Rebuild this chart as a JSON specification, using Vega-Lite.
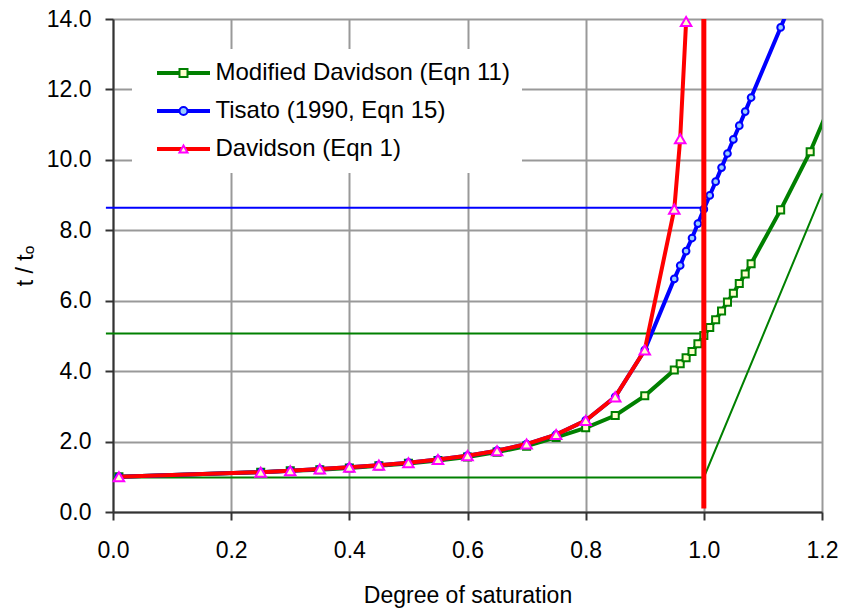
{
  "$schema": "https://vega.github.io/schema/vega-lite/v6.json",
  "width": 709,
  "height": 493,
  "autosize": {"type": "none"},
  "padding": {"left": 113, "top": 19, "right": 19, "bottom": 97},
  "background": "white",
  "config": {
    "view": {"stroke": null},
    "font": "Liberation Sans",
    "axis": {
      "domainColor": "#333333", "domainWidth": 2,
      "tickColor": "#333333", "tickWidth": 2, "tickSize": 8,
      "gridColor": "#999999", "gridWidth": 2,
      "labelFontSize": 23, "labelColor": "#000000",
      "titleFontSize": 23, "titleFontWeight": "normal", "titleColor": "#000000"
    }
  },
  "datasets": {
    "curves": [
      {"series": "Modified Davidson (Eqn 11)", "ord": 1, "x": 0.01, "y": 1.00},
      {"series": "Modified Davidson (Eqn 11)", "ord": 1, "x": 0.25, "y": 1.13},
      {"series": "Modified Davidson (Eqn 11)", "ord": 1, "x": 0.30, "y": 1.17},
      {"series": "Modified Davidson (Eqn 11)", "ord": 1, "x": 0.35, "y": 1.20},
      {"series": "Modified Davidson (Eqn 11)", "ord": 1, "x": 0.40, "y": 1.25},
      {"series": "Modified Davidson (Eqn 11)", "ord": 1, "x": 0.45, "y": 1.31},
      {"series": "Modified Davidson (Eqn 11)", "ord": 1, "x": 0.50, "y": 1.38},
      {"series": "Modified Davidson (Eqn 11)", "ord": 1, "x": 0.55, "y": 1.46},
      {"series": "Modified Davidson (Eqn 11)", "ord": 1, "x": 0.60, "y": 1.56},
      {"series": "Modified Davidson (Eqn 11)", "ord": 1, "x": 0.65, "y": 1.70},
      {"series": "Modified Davidson (Eqn 11)", "ord": 1, "x": 0.70, "y": 1.87},
      {"series": "Modified Davidson (Eqn 11)", "ord": 1, "x": 0.75, "y": 2.12},
      {"series": "Modified Davidson (Eqn 11)", "ord": 1, "x": 0.80, "y": 2.39},
      {"series": "Modified Davidson (Eqn 11)", "ord": 1, "x": 0.85, "y": 2.74},
      {"series": "Modified Davidson (Eqn 11)", "ord": 1, "x": 0.90, "y": 3.30},
      {"series": "Modified Davidson (Eqn 11)", "ord": 1, "x": 0.95, "y": 4.03},
      {"series": "Modified Davidson (Eqn 11)", "ord": 1, "x": 0.96, "y": 4.21},
      {"series": "Modified Davidson (Eqn 11)", "ord": 1, "x": 0.97, "y": 4.38},
      {"series": "Modified Davidson (Eqn 11)", "ord": 1, "x": 0.98, "y": 4.56},
      {"series": "Modified Davidson (Eqn 11)", "ord": 1, "x": 0.99, "y": 4.78},
      {"series": "Modified Davidson (Eqn 11)", "ord": 1, "x": 1.00, "y": 5.01},
      {"series": "Modified Davidson (Eqn 11)", "ord": 1, "x": 1.01, "y": 5.24},
      {"series": "Modified Davidson (Eqn 11)", "ord": 1, "x": 1.02, "y": 5.46},
      {"series": "Modified Davidson (Eqn 11)", "ord": 1, "x": 1.03, "y": 5.71},
      {"series": "Modified Davidson (Eqn 11)", "ord": 1, "x": 1.04, "y": 5.96},
      {"series": "Modified Davidson (Eqn 11)", "ord": 1, "x": 1.05, "y": 6.21},
      {"series": "Modified Davidson (Eqn 11)", "ord": 1, "x": 1.06, "y": 6.49},
      {"series": "Modified Davidson (Eqn 11)", "ord": 1, "x": 1.07, "y": 6.76},
      {"series": "Modified Davidson (Eqn 11)", "ord": 1, "x": 1.08, "y": 7.05},
      {"series": "Modified Davidson (Eqn 11)", "ord": 1, "x": 1.13, "y": 8.58},
      {"series": "Modified Davidson (Eqn 11)", "ord": 1, "x": 1.18, "y": 10.23},
      {"series": "Modified Davidson (Eqn 11)", "ord": 1, "x": 1.23, "y": 12.2},
      {"series": "Tisato (1990, Eqn 15)", "ord": 2, "x": 0.01, "y": 1.00},
      {"series": "Tisato (1990, Eqn 15)", "ord": 2, "x": 0.25, "y": 1.13},
      {"series": "Tisato (1990, Eqn 15)", "ord": 2, "x": 0.30, "y": 1.17},
      {"series": "Tisato (1990, Eqn 15)", "ord": 2, "x": 0.35, "y": 1.22},
      {"series": "Tisato (1990, Eqn 15)", "ord": 2, "x": 0.40, "y": 1.27},
      {"series": "Tisato (1990, Eqn 15)", "ord": 2, "x": 0.45, "y": 1.33},
      {"series": "Tisato (1990, Eqn 15)", "ord": 2, "x": 0.50, "y": 1.40},
      {"series": "Tisato (1990, Eqn 15)", "ord": 2, "x": 0.55, "y": 1.49},
      {"series": "Tisato (1990, Eqn 15)", "ord": 2, "x": 0.60, "y": 1.60},
      {"series": "Tisato (1990, Eqn 15)", "ord": 2, "x": 0.65, "y": 1.74},
      {"series": "Tisato (1990, Eqn 15)", "ord": 2, "x": 0.70, "y": 1.93},
      {"series": "Tisato (1990, Eqn 15)", "ord": 2, "x": 0.75, "y": 2.20},
      {"series": "Tisato (1990, Eqn 15)", "ord": 2, "x": 0.80, "y": 2.60},
      {"series": "Tisato (1990, Eqn 15)", "ord": 2, "x": 0.85, "y": 3.27},
      {"series": "Tisato (1990, Eqn 15)", "ord": 2, "x": 0.90, "y": 4.60},
      {"series": "Tisato (1990, Eqn 15)", "ord": 2, "x": 0.95, "y": 6.62},
      {"series": "Tisato (1990, Eqn 15)", "ord": 2, "x": 0.96, "y": 7.00},
      {"series": "Tisato (1990, Eqn 15)", "ord": 2, "x": 0.97, "y": 7.41},
      {"series": "Tisato (1990, Eqn 15)", "ord": 2, "x": 0.98, "y": 7.78},
      {"series": "Tisato (1990, Eqn 15)", "ord": 2, "x": 0.99, "y": 8.19},
      {"series": "Tisato (1990, Eqn 15)", "ord": 2, "x": 1.00, "y": 8.60},
      {"series": "Tisato (1990, Eqn 15)", "ord": 2, "x": 1.01, "y": 8.99},
      {"series": "Tisato (1990, Eqn 15)", "ord": 2, "x": 1.02, "y": 9.38},
      {"series": "Tisato (1990, Eqn 15)", "ord": 2, "x": 1.03, "y": 9.78},
      {"series": "Tisato (1990, Eqn 15)", "ord": 2, "x": 1.04, "y": 10.18},
      {"series": "Tisato (1990, Eqn 15)", "ord": 2, "x": 1.05, "y": 10.58},
      {"series": "Tisato (1990, Eqn 15)", "ord": 2, "x": 1.06, "y": 10.97},
      {"series": "Tisato (1990, Eqn 15)", "ord": 2, "x": 1.07, "y": 11.37},
      {"series": "Tisato (1990, Eqn 15)", "ord": 2, "x": 1.08, "y": 11.77},
      {"series": "Tisato (1990, Eqn 15)", "ord": 2, "x": 1.13, "y": 13.76},
      {"series": "Tisato (1990, Eqn 15)", "ord": 2, "x": 1.18, "y": 15.76},
      {"series": "Davidson (Eqn 1)", "ord": 3, "x": 0.01, "y": 1.00},
      {"series": "Davidson (Eqn 1)", "ord": 3, "x": 0.25, "y": 1.13},
      {"series": "Davidson (Eqn 1)", "ord": 3, "x": 0.30, "y": 1.17},
      {"series": "Davidson (Eqn 1)", "ord": 3, "x": 0.35, "y": 1.22},
      {"series": "Davidson (Eqn 1)", "ord": 3, "x": 0.40, "y": 1.27},
      {"series": "Davidson (Eqn 1)", "ord": 3, "x": 0.45, "y": 1.33},
      {"series": "Davidson (Eqn 1)", "ord": 3, "x": 0.50, "y": 1.40},
      {"series": "Davidson (Eqn 1)", "ord": 3, "x": 0.55, "y": 1.49},
      {"series": "Davidson (Eqn 1)", "ord": 3, "x": 0.60, "y": 1.60},
      {"series": "Davidson (Eqn 1)", "ord": 3, "x": 0.65, "y": 1.74},
      {"series": "Davidson (Eqn 1)", "ord": 3, "x": 0.70, "y": 1.93},
      {"series": "Davidson (Eqn 1)", "ord": 3, "x": 0.75, "y": 2.20},
      {"series": "Davidson (Eqn 1)", "ord": 3, "x": 0.80, "y": 2.60},
      {"series": "Davidson (Eqn 1)", "ord": 3, "x": 0.85, "y": 3.27},
      {"series": "Davidson (Eqn 1)", "ord": 3, "x": 0.90, "y": 4.60},
      {"series": "Davidson (Eqn 1)", "ord": 3, "x": 0.95, "y": 8.60},
      {"series": "Davidson (Eqn 1)", "ord": 3, "x": 0.96, "y": 10.60},
      {"series": "Davidson (Eqn 1)", "ord": 3, "x": 0.97, "y": 13.93},
      {"series": "Davidson (Eqn 1)", "ord": 3, "x": 0.98, "y": 20.6}
    ],
    "refs": [
      {"ref": "b", "x": -0.012, "y": 8.64},
      {"ref": "b", "x": 1.0, "y": 8.64},
      {"ref": "g5", "x": -0.012, "y": 5.07},
      {"ref": "g5", "x": 1.0, "y": 5.07},
      {"ref": "g1", "x": 0.0, "y": 0.98},
      {"ref": "g1", "x": 1.0, "y": 0.98},
      {"ref": "g1", "x": 1.2, "y": 9.05}
    ],
    "vline": [
      {"x": 1.0, "y": 0.1, "y2": 14}
    ]
  },
  "encoding": {
    "x": {
      "field": "x", "type": "quantitative",
      "scale": {"domain": [0, 1.2], "nice": false, "zero": false},
      "axis": {
        "values": [0, 0.2, 0.4, 0.6, 0.8, 1.0, 1.2], "format": ".1f",
        "title": "Degree of saturation",
        "labelFlush": false, "labelOverlap": false,
        "labelPadding": 19, "titlePadding": 22
      }
    },
    "y": {
      "field": "y", "type": "quantitative",
      "scale": {"domain": [0, 14], "nice": false, "zero": false},
      "axis": {
        "values": [0, 2, 4, 6, 8, 10, 12, 14], "format": ".1f",
        "title": "t / tₒ",
        "labelFlush": false, "labelOverlap": false,
        "labelPadding": 14, "titlePadding": 9
      }
    }
  },
  "layer": [
    {
      "data": {"name": "refs"},
      "transform": [{"filter": "datum.ref === 'b'"}],
      "mark": {"type": "line", "color": "#0000FF", "strokeWidth": 2},
      "encoding": {}
    },
    {
      "data": {"name": "refs"},
      "transform": [{"filter": "datum.ref !== 'b'"}],
      "mark": {"type": "line", "color": "#008000", "strokeWidth": 2},
      "encoding": {"detail": {"field": "ref", "type": "nominal"}}
    },
    {
      "data": {"name": "curves"},
      "transform": [{"filter": "datum.ord === 1"}],
      "mark": {"type": "line", "strokeWidth": 4, "clip": true},
      "encoding": {
        "color": {
          "field": "series", "type": "nominal",
          "sort": {"field": "ord", "op": "min"},
          "scale": {"range": ["#008000", "#0000FF", "#FF0000"]},
          "legend": {
            "title": null, "orient": "none", "legendX": 19, "legendY": 30,
            "symbolType": "M-2.65,0H2.65", "symbolSize": 400, "symbolStrokeWidth": 4,
            "symbolOffset": 27.5,
            "labelFontSize": 24, "labelOffset": 20, "labelLimit": 400, "labelColor": "#000000",
            "rowPadding": 14, "padding": 12, "fillColor": "#FFFFFF", "zindex": 1
          }
        }
      }
    },
    {
      "data": {"name": "curves"},
      "transform": [{"filter": "datum.ord === 1 && datum.x <= 1.2 && datum.y <= 14.2"}],
      "mark": {"type": "point", "opacity": 1, "size": 50, "strokeWidth": 2},
      "encoding": {
        "shape": {
          "field": "series", "type": "nominal",
          "scale": {"domain": ["Modified Davidson (Eqn 11)", "Tisato (1990, Eqn 15)", "Davidson (Eqn 1)"], "range": ["square", "circle", "triangle-up"]},
          "legend": {
            "title": null, "orient": "none", "legendX": 19, "legendY": 30,
            "symbolSize": 64, "symbolStrokeWidth": 2, "symbolOffset": 27.5,
            "labelFontSize": 24, "labelOpacity": 0, "labelExpr": "' '", "labelOffset": 20,
            "rowPadding": 14, "padding": 12, "zindex": 2
          }
        },
        "stroke": {
          "field": "series", "type": "nominal",
          "scale": {"domain": ["Modified Davidson (Eqn 11)", "Tisato (1990, Eqn 15)", "Davidson (Eqn 1)"], "range": ["#008000", "#0000FF", "#FF00FF"]}
        },
        "fill": {
          "field": "series", "type": "nominal",
          "scale": {"domain": ["Modified Davidson (Eqn 11)", "Tisato (1990, Eqn 15)", "Davidson (Eqn 1)"], "range": ["#FFFFCC", "#99CCFF", "#FFFFCC"]}
        }
      }
    },
    {
      "data": {"name": "curves"},
      "transform": [{"filter": "datum.ord === 2"}],
      "mark": {"type": "line", "strokeWidth": 4, "clip": true},
      "encoding": {
        "color": {
          "field": "series", "type": "nominal",
          "sort": {"field": "ord", "op": "min"},
          "scale": {"range": ["#008000", "#0000FF", "#FF0000"]}
        }
      }
    },
    {
      "data": {"name": "curves"},
      "transform": [{"filter": "datum.ord === 2 && datum.x <= 1.2 && datum.y <= 14.2"}],
      "mark": {"type": "point", "opacity": 1, "size": 45, "strokeWidth": 2},
      "encoding": {
        "shape": {"field": "series", "type": "nominal"},
        "stroke": {"field": "series", "type": "nominal"},
        "fill": {"field": "series", "type": "nominal"}
      }
    },
    {
      "data": {"name": "curves"},
      "transform": [{"filter": "datum.ord === 3"}],
      "mark": {"type": "line", "strokeWidth": 4, "clip": true},
      "encoding": {
        "color": {
          "field": "series", "type": "nominal",
          "sort": {"field": "ord", "op": "min"},
          "scale": {"range": ["#008000", "#0000FF", "#FF0000"]}
        }
      }
    },
    {
      "data": {"name": "curves"},
      "transform": [{"filter": "datum.ord === 3 && datum.x <= 1.2 && datum.y <= 14.2"}],
      "mark": {"type": "point", "opacity": 1, "size": 110, "strokeWidth": 2},
      "encoding": {
        "shape": {"field": "series", "type": "nominal"},
        "stroke": {"field": "series", "type": "nominal"},
        "fill": {"field": "series", "type": "nominal"}
      }
    },
    {
      "data": {"name": "vline"},
      "mark": {"type": "rule", "color": "#FF0000", "strokeWidth": 5},
      "encoding": {"y2": {"field": "y2"}}
    }
  ]
}
